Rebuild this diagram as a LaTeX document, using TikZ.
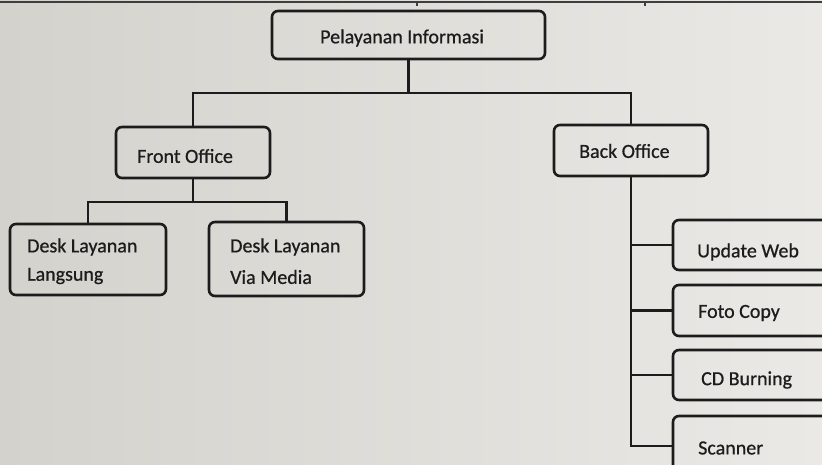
\documentclass[tikz,border=0pt]{standalone}
\usepackage{fontspec}
\setmainfont{Carlito}
\newfontfamily\lblfont{Carlito}[FakeBold=0.7]
\definecolor{ink}{RGB}{28,28,28}
\definecolor{bgl}{RGB}{212,210,205}
\definecolor{bgr}{RGB}{234,233,229}
\begin{document}
\begin{tikzpicture}[x=1pt,y=-1pt,
  box/.style={draw=ink,line width=2.6pt,rounded corners=6pt,inner sep=0pt},
  lbl/.style={anchor=west,inner sep=0pt,font=\lblfont\fontsize{20}{24}\selectfont,text=ink},
  link/.style={draw=ink,line width=2.8pt},
  rule/.style={draw=ink!85,line width=1.4pt}]
\useasboundingbox (0,0) rectangle (822,464);
\clip (0,0) rectangle (822,464);
\shade[left color=bgl,right color=bgr] (0,0) rectangle (822,464);
% table rule at top
\coordinate (r0) at (0,2);
\coordinate (r1) at (822,2);
\coordinate (t1) at (417,2);
\coordinate (t2) at (645,2);
\draw[rule] (r0) -- (r1);
\draw[rule] (t1) -- ++(0,4);
\draw[rule] (t2) -- ++(0,4);
% boxes
\node[box,minimum width=273pt,minimum height=48pt] (pi) at (408.5,35) {};
\node[box,minimum width=154pt,minimum height=51pt] (fo) at (193,152.5) {};
\node[box,minimum width=154pt,minimum height=51pt] (bo) at (631,150.5) {};
\node[box,minimum width=156pt,minimum height=71pt] (dl) at (88,259.5) {};
\node[box,minimum width=155pt,minimum height=74pt] (dv) at (286.5,259) {};
\node[box,minimum width=187pt,minimum height=50pt] (uw) at (766.5,245) {};
\node[box,minimum width=187pt,minimum height=51pt] (fc) at (766.5,310.5) {};
\node[box,minimum width=187pt,minimum height=50pt] (cd) at (766.5,375) {};
\node[box,minimum width=187pt,minimum height=60pt] (sc) at (766.5,446) {};
% labels
\node[lbl] (piT) at (320,38) {Pelayanan Informasi};
\node[lbl] (foT) at (137,156) {Front Office};
\node[lbl] (boT) at (579,151) {Back Office};
\node[lbl] (dlT1) at (27,247) {Desk Layanan};
\node[lbl] (dlT2) at (27,276) {Langsung};
\node[lbl] (dvT1) at (230,247) {Desk Layanan};
\node[lbl] (dvT2) at (230,277) {Via Media};
\node[lbl] (uwT) at (697,252) {Update Web};
\node[lbl] (fcT) at (698,313) {Foto Copy};
\node[lbl] (cdT) at (701,380) {CD Burning};
\node[lbl] (scT) at (698,448) {Scanner};
% connectors
\coordinate (bus1) at (408.5,93);
\coordinate (bus2) at (193,202);
\coordinate (bend) at (631,446);
\draw[link] (pi.south) -- (bus1);
\draw[link] (fo.north) |- (bus1) -| (bo.north);
\draw[link] (fo.south) -- (bus2);
\draw[link] (dl.north) |- (bus2) -| (dv.north);
\draw[link] (bo.south) -- (bend) -- (sc.west);
\draw[link] (uw.west) -- (uw.west -| bo.south);
\draw[link] (fc.west) -- (fc.west -| bo.south);
\draw[link] (cd.west) -- (cd.west -| bo.south);
\end{tikzpicture}
\end{document}
